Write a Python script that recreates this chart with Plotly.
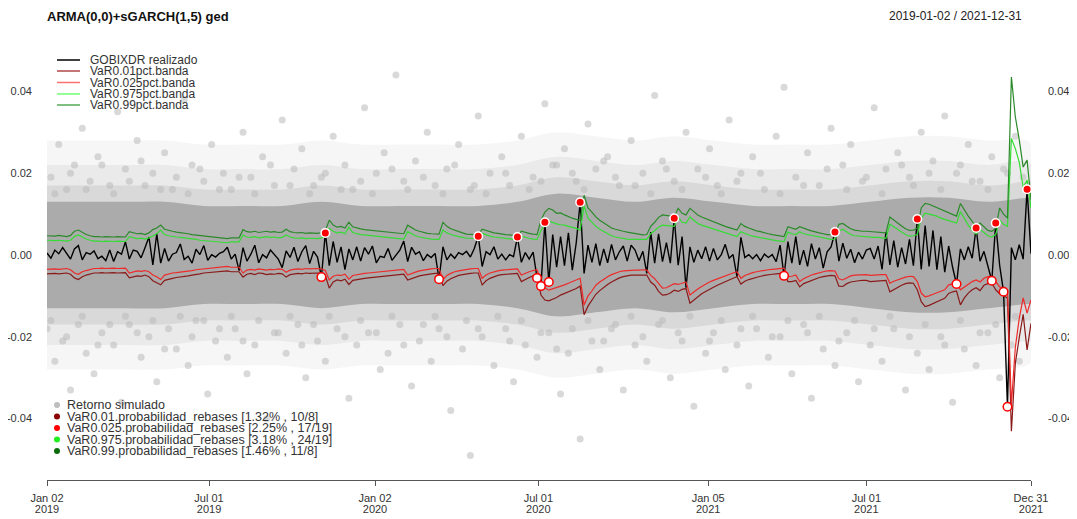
import plotly.graph_objects as go

# ---------------- text ----------------
TITLE = "ARMA(0,0)+sGARCH(1,5) ged"
PERIOD = "2019-01-02 / 2021-12-31"
TOP_LEGEND = ["GOBIXDR realizado", "VaR0.01pct.banda", "VaR0.025pct.banda",
              "VaR0.975pct.banda", "VaR0.99pct.banda"]
BOTTOM_LEGEND = ["Retorno simulado",
                 "VaR0.01.probabilidad_rebases [1.32% , 10/8]",
                 "VaR0.025.probabilidad_rebases [2.25% , 17/19]",
                 "VaR0.975.probabilidad_rebases [3.18% , 24/19]",
                 "VaR0.99.probabilidad_rebases [1.46% , 11/8]"]

# ---------------- axes ----------------
UNIT = 1e-3          # all series below are in thousandths (0.001)
STEP = 3             # one sample every 3 trading-day observations
N_LAST = 753         # observation index of 2021-12-31
TICK_IDX = [0, 124, 251, 376, 506, 627, 753]
TICK_DAY = ["Jan 02", "Jul 01", "Jan 02", "Jul 01", "Jan 05", "Jul 01", "Dec 31"]
TICK_YEAR = ["2019", "2019", "2020", "2020", "2021", "2021", "2021"]
Y_TICKS = [-0.04, -0.02, 0.0, 0.02, 0.04]
Y_TICK_TEXT = ["-0.04", "-0.02", "0.00", "0.02", "0.04"]

# ---------------- series (x 1e-3) ----------------
REALIZED = [
    0.5, -0.8, 1.2, 0.3, 1.8, 0.4, -1.0, 1.5, 2.3, -1.2,
    0.6, 0.2, 1.0, -0.9, -0.3, -1.4, 1.2, -1.6, 0.8, 0.2,
    3.2, -1.0, 1.2, 0.9, -0.7, 1.8, 4.4, -2.4, 5.2, -2.0,
    1.6, -1.5, 0.2, 0.6, 2.7, -1.1, -0.3, -2.0, 1.4, 0.1,
    2.3, -1.3, 0.1, -0.5, 0.4, 0.8, 1.9, -1.0, 0.2, -3.8,
    1.8, -1.5, 0.2, 2.4, -1.9, 0.1, -0.7, 1.2, 0.2, -1.0,
    -3.1, 1.0, -0.6, 1.9, -1.6, 0.8, 2.3, -2.1, 0.9, -0.5,
    -5.4, 5.4, -2.6, 3.3, -1.8, 2.0, -3.6, 1.5, -1.2, 2.0,
    -1.5, 1.8, 0.2, 2.2, -1.9, -0.3, -0.6, 1.6, -1.3, 0.1,
    1.2, 3.4, -1.6, 1.9, 0.2, 0.8, -1.4, 0.1, -0.6, 0.4,
    -5.9, 2.0, -1.2, 0.2, -0.8, 0.6, 0.1, 0.9, -0.5, 1.6,
    4.6, -2.8, 0.8, 0.1, 2.0, -1.0, 0.2, -1.2, 0.1, -0.4,
    4.4, -1.8, 0.6, -1.0, 0.7, -5.6, -7.6, 8.0, -6.6, 5.0,
    -3.0, 4.5, -2.6, 5.4, -3.7, 3.0, 12.9, -4.5, 2.4, -1.8,
    2.8, -2.6, 1.5, -1.9, 2.6, -1.2, 0.8, 2.2, -1.5, 2.4,
    1.2, -1.4, 0.9, -4.5, 5.6, -2.0, 5.2, -1.6, 3.0, -2.0,
    9.0, -2.5, 4.5, -8.0, 2.0, -1.8, 1.2, -0.9, 2.0, -1.5,
    1.6, -1.2, 0.1, 2.6, -0.8, 0.1, -5.3, 4.3, -0.6, 0.1,
    -0.9, 0.1, -1.4, 0.2, -0.6, 0.1, -1.6, 2.4, -5.1, 3.3,
    -2.0, 4.5, -2.4, 1.2, -2.8, 2.8, -1.0, 1.8, -3.2, 0.8,
    2.0, 5.6, -1.5, 2.9, -0.8, 1.4, -1.9, 0.7, -1.0, 1.2,
    1.6, -1.0, 2.2, -3.5, 5.6, -2.4, 3.5, -3.0, 1.8, -2.2,
    3.8, -2.6, 8.8, -3.5, 7.2, -2.8, 6.0, -3.6, 4.5, -4.2,
    2.2, -3.0, -7.1, 1.5, -1.2, 2.0, -0.8, 6.6, -1.5, 0.9,
    -2.4, -6.3, 7.8, -2.5, -9.0, -37.1, 1.8, -1.2, 2.5, -1.0,
    16.1, 0.3,
]

VAR_975 = [
    3.6, 3.5, 3.5, 3.6, 3.5, 3.4, 3.6, 4.5, 4.9, 4.3,
    3.9, 3.6, 3.4, 3.4, 3.3, 3.4, 3.3, 3.3, 3.4, 3.3,
    3.3, 4.5, 4.2, 4.0, 4.1, 3.9, 4.2, 4.8, 5.2, 6.1,
    5.0, 4.7, 4.5, 4.4, 4.3, 4.2, 4.0, 3.9, 3.8, 3.6,
    3.5, 3.4, 3.3, 3.2, 3.1, 3.1, 3.0, 3.2, 3.2, 3.2,
    4.9, 4.4, 4.3, 4.5, 4.2, 4.3, 4.5, 4.3, 4.4, 4.2,
    4.3, 4.9, 4.4, 4.2, 4.1, 4.2, 4.0, 4.1, 4.0, 4.0,
    4.2, 4.6, 6.5, 5.8, 5.4, 5.6, 5.2, 6.8, 5.5, 5.2,
    5.0, 4.9, 4.8, 4.7, 4.5, 4.4, 4.3, 4.2, 4.1, 4.0,
    3.9, 3.9, 5.7, 5.1, 4.7, 4.4, 4.2, 4.0, 3.9, 3.8,
    3.8, 6.1, 5.4, 5.0, 4.7, 4.5, 4.3, 4.1, 4.1, 4.0,
    4.0, 5.3, 4.9, 4.6, 4.4, 4.3, 4.1, 4.0, 3.9, 3.8,
    3.7, 4.6, 4.3, 4.1, 3.9, 3.8, 6.0, 7.4, 8.3, 7.9,
    7.6, 7.4, 7.3, 7.0, 6.8, 6.5, 6.1, 12.0, 9.0, 8.0,
    7.0, 6.3, 5.7, 5.2, 4.7, 4.4, 4.2, 4.0, 3.9, 3.8,
    3.8, 3.7, 3.7, 3.8, 5.2, 6.0, 6.8, 7.3, 7.2, 7.0,
    7.0, 9.3, 8.0, 7.8, 9.3, 8.5, 7.7, 7.3, 7.0, 6.6,
    6.3, 6.0, 5.7, 5.4, 5.1, 4.8, 4.5, 5.7, 5.2, 4.9,
    4.6, 4.4, 4.2, 4.0, 3.8, 3.7, 3.5, 3.4, 3.3, 5.6,
    5.2, 5.0, 5.7, 5.2, 5.0, 4.7, 4.5, 4.3, 4.1, 3.9,
    3.8, 3.9, 5.9, 6.3, 5.6, 5.0, 4.7, 4.6, 4.5, 4.5,
    4.4, 4.3, 4.3, 4.2, 4.1, 7.5, 6.8, 6.2, 5.6, 5.0,
    4.6, 4.7, 5.0, 9.0, 10.2, 10.0, 9.7, 9.5, 9.0, 8.7,
    8.3, 8.0, 7.8, 10.6, 8.8, 7.3, 6.0, 5.1, 6.3, 5.4,
    4.7, 4.4, 5.0, 8.5, 7.5, 7.0, 28.5, 26.0, 22.7, 16.5,
    18.3, 11.5,
]

VAR_99 = [
    4.7, 4.6, 4.6, 4.8, 4.6, 4.5, 4.8, 5.8, 6.1, 5.5,
    5.0, 4.7, 4.5, 4.5, 4.4, 4.5, 4.4, 4.4, 4.5, 4.4,
    4.4, 5.7, 5.4, 5.2, 5.3, 5.0, 5.4, 6.2, 6.6, 7.3,
    6.3, 6.0, 5.8, 5.6, 5.5, 5.4, 5.2, 5.0, 4.9, 4.7,
    4.6, 4.5, 4.4, 4.3, 4.2, 4.1, 4.0, 4.2, 4.2, 4.2,
    6.2, 5.7, 5.6, 5.8, 5.5, 5.6, 5.8, 5.6, 5.7, 5.5,
    5.6, 6.3, 5.7, 5.5, 5.4, 5.5, 5.3, 5.4, 5.3, 5.3,
    5.5, 6.0, 8.5, 7.3, 6.8, 7.0, 6.6, 8.0, 6.9, 6.6,
    6.4, 6.2, 6.1, 6.0, 5.8, 5.7, 5.6, 5.5, 5.4, 5.3,
    5.2, 5.2, 7.3, 6.6, 6.1, 5.8, 5.5, 5.3, 5.2, 5.1,
    5.1, 8.0, 7.0, 6.4, 6.0, 5.7, 5.4, 5.1, 5.0, 4.9,
    4.9, 6.3, 6.0, 5.7, 5.4, 5.3, 5.1, 5.0, 4.9, 4.8,
    4.7, 5.8, 5.5, 5.3, 5.1, 5.0, 8.5, 10.5, 11.4, 11.0,
    10.2, 10.3, 9.8, 9.3, 9.0, 8.7, 8.5, 14.6, 11.5, 10.5,
    9.3, 8.5, 7.8, 7.2, 6.6, 6.3, 6.0, 5.8, 5.6, 5.4,
    5.2, 5.0, 4.9, 5.0, 7.0, 8.0, 9.2, 9.8, 9.7, 9.5,
    9.4, 11.4, 10.2, 9.8, 11.4, 10.6, 9.8, 9.3, 8.9, 8.5,
    8.2, 7.8, 7.4, 7.0, 6.7, 6.4, 6.1, 7.7, 7.0, 6.6,
    6.2, 5.9, 5.7, 5.4, 5.2, 5.0, 4.8, 4.6, 4.5, 6.9,
    6.6, 6.3, 6.9, 6.5, 6.2, 5.9, 5.6, 5.4, 5.2, 5.0,
    5.0, 5.1, 7.5, 7.7, 7.0, 6.4, 6.1, 5.9, 5.8, 5.8,
    5.7, 5.6, 5.6, 5.5, 5.4, 9.3, 8.5, 7.8, 7.1, 6.4,
    6.0, 6.1, 6.5, 11.5, 12.6, 12.4, 12.0, 11.6, 11.0, 10.6,
    10.2, 9.8, 9.5, 12.6, 11.0, 9.5, 8.2, 7.0, 7.8, 6.8,
    6.0, 5.8, 6.5, 11.5, 10.0, 9.0, 43.5, 33.8, 28.2, 21.5,
    23.2, 13.5,
]

VAR_025 = [
    -3.5, -3.4, -3.4, -3.5, -3.4, -3.3, -3.6, -4.4, -4.7, -4.1,
    -3.8, -3.5, -3.3, -3.3, -3.2, -3.3, -3.2, -3.2, -3.3, -3.2,
    -3.2, -4.4, -4.1, -3.9, -4.0, -3.8, -4.1, -4.9, -5.3, -6.0,
    -4.9, -4.6, -4.4, -4.3, -4.2, -4.1, -3.9, -3.8, -3.6, -3.5,
    -3.3, -3.2, -3.1, -3.0, -2.9, -2.9, -2.8, -3.0, -3.0, -3.0,
    -4.4, -3.7, -3.5, -3.7, -3.4, -3.5, -3.7, -3.5, -3.6, -3.4,
    -3.5, -4.2, -3.7, -3.5, -3.4, -3.5, -3.3, -3.4, -3.3, -3.3,
    -3.4, -3.8, -6.1, -5.2, -4.9, -5.0, -4.7, -5.9, -5.0, -4.8,
    -4.6, -4.5, -4.4, -4.3, -4.1, -4.0, -3.9, -3.8, -3.7, -3.6,
    -3.5, -3.5, -4.9, -4.5, -4.2, -3.9, -3.7, -3.5, -3.4, -3.3,
    -3.3, -6.0, -5.0, -4.5, -4.1, -3.9, -3.7, -3.5, -3.4, -3.3,
    -3.3, -5.7, -4.9, -4.4, -4.1, -3.9, -3.7, -3.6, -3.5, -3.4,
    -3.4, -4.9, -4.4, -4.1, -3.8, -3.6, -6.4, -8.0, -8.6, -8.3,
    -8.0, -7.7, -7.3, -6.9, -6.5, -6.1, -5.7, -12.2, -10.0, -8.8,
    -7.4, -6.6, -5.9, -5.3, -4.8, -4.4, -4.1, -3.9, -3.8, -3.7,
    -3.7, -3.7, -3.6, -3.7, -5.0, -5.8, -7.0, -8.1, -8.0, -7.6,
    -7.0, -7.2, -6.8, -6.6, -9.8, -9.0, -8.3, -7.7, -7.1, -6.6,
    -6.2, -5.8, -5.4, -5.0, -4.7, -4.4, -4.1, -5.7, -5.0, -4.6,
    -4.3, -4.1, -3.9, -3.7, -3.6, -3.5, -3.4, -3.3, -3.2, -5.3,
    -5.2, -4.9, -6.5, -5.8, -5.3, -4.9, -4.6, -4.3, -4.1, -3.9,
    -3.8, -3.9, -5.8, -6.1, -5.5, -5.1, -4.9, -4.9, -4.8, -4.8,
    -5.0, -4.9, -4.9, -4.8, -4.8, -6.9, -6.4, -6.0, -5.6, -5.4,
    -5.2, -5.3, -6.5, -9.3, -10.2, -10.0, -9.6, -9.2, -8.8, -8.5,
    -7.3, -7.0, -6.8, -8.5, -7.8, -7.0, -6.5, -6.1, -6.6, -5.7,
    -5.3, -5.2, -6.5, -7.8, -8.0, -8.5, -36.5, -22.6, -15.5, -10.5,
    -14.2, -11.0,
]

VAR_01 = [
    -4.6, -4.5, -4.5, -4.6, -4.5, -4.4, -4.7, -5.6, -6.0, -5.3,
    -4.9, -4.6, -4.4, -4.4, -4.3, -4.4, -4.3, -4.3, -4.4, -4.3,
    -4.3, -5.6, -5.3, -5.1, -5.2, -4.9, -5.3, -6.3, -6.8, -7.3,
    -6.2, -5.9, -5.7, -5.5, -5.4, -5.3, -5.1, -4.9, -4.8, -4.6,
    -4.4, -4.3, -4.2, -4.1, -4.0, -4.0, -3.9, -4.1, -4.1, -4.1,
    -5.4, -4.7, -4.5, -4.8, -4.4, -4.5, -4.8, -4.6, -4.7, -4.5,
    -4.6, -5.4, -4.8, -4.6, -4.5, -4.6, -4.4, -4.5, -4.4, -4.4,
    -4.5, -5.0, -8.1, -6.6, -6.1, -6.3, -5.9, -7.2, -6.2, -6.0,
    -5.8, -5.7, -5.6, -5.5, -5.3, -5.2, -5.1, -5.0, -4.9, -4.8,
    -4.7, -4.7, -6.1, -5.7, -5.4, -5.1, -4.9, -4.7, -4.6, -4.5,
    -4.5, -7.5, -6.4, -5.8, -5.3, -5.0, -4.8, -4.6, -4.5, -4.4,
    -4.4, -7.3, -6.3, -5.7, -5.3, -5.0, -4.8, -4.7, -4.6, -4.5,
    -4.5, -6.5, -5.9, -5.5, -5.1, -4.8, -9.8, -11.0, -11.2, -10.8,
    -10.4, -9.8, -9.4, -9.0, -8.6, -8.2, -7.6, -14.6, -12.5, -11.0,
    -9.6, -8.7, -7.9, -7.2, -6.6, -6.0, -5.6, -5.3, -5.1, -4.9,
    -4.9, -4.9, -4.8, -4.9, -6.6, -7.4, -8.9, -9.8, -9.7, -9.3,
    -8.6, -8.9, -8.4, -8.2, -11.8, -11.0, -10.2, -9.5, -8.9, -8.3,
    -7.9, -7.4, -6.9, -6.5, -6.1, -5.7, -5.3, -7.1, -6.4, -6.0,
    -5.7, -5.4, -5.2, -5.0, -4.8, -4.7, -4.6, -4.5, -4.4, -6.5,
    -6.5, -6.2, -7.8, -7.0, -6.6, -6.2, -5.8, -5.5, -5.3, -5.1,
    -5.0, -5.1, -7.6, -7.7, -7.0, -6.6, -6.4, -6.3, -6.2, -6.2,
    -6.5, -6.4, -6.3, -6.2, -6.2, -9.0, -8.4, -7.8, -7.4, -7.0,
    -6.8, -6.9, -8.5, -11.4, -12.6, -12.3, -11.8, -11.4, -11.0, -10.6,
    -9.4, -9.0, -8.8, -12.2, -10.5, -9.3, -8.5, -8.0, -8.7, -7.4,
    -7.0, -6.9, -8.5, -9.5, -10.0, -10.5, -43.1, -26.5, -20.2, -14.5,
    -23.2, -16.7,
]

# sample positions (in the series above) of the breaches that are marked
UP_BREACH_K = [71, 110, 120, 127, 136, 160, 201, 222, 237, 242, 250]
DOWN_BREACH_K = [70, 100, 125, 126, 128, 188, 232, 241, 244, 245]

# simulated-returns cloud: dense core and fading halo envelopes (x 1e-3)
ENV_K = [0, 10, 20, 30, 40, 50, 60, 70, 80, 90, 100, 110, 120, 130, 140, 150,
         160, 170, 180, 190, 200, 210, 220, 230, 240, 250, 251]
CORE_TOP = [13, 13, 13, 13, 12, 12, 12, 13, 12, 12, 12, 12, 13, 15, 14, 13,
            14, 13, 12, 12, 12, 13, 14, 14, 13, 14, 14]
CORE_BOT = [-13, -13, -13, -13, -12, -12, -12, -13, -12, -12, -12, -12, -13, -15, -14, -13,
            -14, -13, -12, -12, -12, -13, -14, -14, -13, -12, -12]
HALO1_TOP = [17, 17, 17, 17, 16, 16, 16, 17, 16, 16, 16, 16, 17, 19, 18, 17,
             18, 17, 16, 16, 16, 17, 18, 18, 17, 18, 18]
HALO1_BOT = [-17, -17, -17, -17, -16, -16, -16, -17, -16, -16, -16, -16, -17, -19, -18, -17,
             -18, -17, -16, -16, -16, -17, -18, -18, -17, -16, -16]
HALO2_TOP = [22, 22, 22, 22, 21, 21, 21, 22, 21, 21, 21, 21, 22, 24, 23, 22,
             23, 22, 21, 21, 21, 22, 23, 23, 22, 23, 22]
HALO2_BOT = [-22, -22, -22, -22, -21, -21, -21, -22, -21, -21, -21, -21, -22, -24, -23, -22,
             -23, -22, -21, -21, -21, -22, -23, -23, -22, -21, -21]
HALO3_TOP = [28, 28, 28, 28, 27, 27, 27, 28, 27, 27, 27, 27, 28, 30, 29, 28,
             29, 28, 27, 27, 27, 28, 29, 29, 28, 28, 27]
HALO3_BOT = [-28, -28, -28, -28, -27, -27, -27, -28, -27, -27, -27, -27, -28, -30, -29, -28,
             -29, -28, -27, -27, -27, -28, -29, -29, -28, -27, -26]

# scattered simulated returns outside the dense band: (sample position, value x 1e-3)
DOT_K = [1, 3, 5, 7, 9, 11, 13, 16, 18, 20, 23, 25, 27, 30, 32, 35, 37, 40, 42, 45,
         47, 50, 52, 55, 58, 60, 63, 65, 68, 70, 73, 76, 78, 81, 84, 86, 89, 91, 94, 97,
         99, 102, 105, 108, 110, 113, 116, 118, 121, 124, 127, 129, 132, 135, 138, 140, 143, 146, 149, 152,
         155, 157, 160, 163, 166, 169, 171, 174, 177, 180, 183, 186, 188, 191, 194, 197, 200, 203, 205, 208,
         211, 214, 217, 220, 223, 226, 229, 232, 235, 238, 241, 244, 247, 249,
         0, 2, 4, 6, 8, 10, 12, 14, 17, 19, 21, 24, 26, 28, 31, 33, 36, 38, 41, 43,
         46, 48, 51, 53, 56, 59, 61, 64, 66, 69, 71, 74, 77, 79, 82, 85, 87, 90, 93, 95,
         98, 100, 103, 106, 108, 111, 114, 117, 119, 122, 125, 128, 131, 133, 136, 139, 141, 144, 147, 150,
         153, 156, 159, 162, 165, 168, 170, 173, 176, 179, 181, 184, 187, 190, 193, 195, 198, 201, 204, 207,
         210, 213, 216, 219, 222, 225, 228, 231, 234, 237, 240, 243, 246, 248,
         2, 6, 10, 14, 17, 21, 24, 29, 33, 36, 39, 44, 49, 53, 57, 62, 67, 71, 75, 80,
         83, 88, 92, 96, 101, 104, 109, 112, 117, 123, 126, 130, 134, 137, 142, 145, 150, 154, 158, 162,
         168, 172, 176, 182, 187, 193, 199, 204, 209, 213, 218, 221, 225, 228, 233, 236, 240, 245, 250,
         1, 5, 9, 13, 16, 20, 23, 27, 30, 34, 37, 40, 44, 47, 50, 54, 58, 62, 65, 68,
         72, 76, 80, 84, 88, 91, 96, 99, 102, 107, 110, 115, 118, 121, 126, 130, 134, 138, 142, 145,
         149, 152, 157, 161, 164, 169, 172, 177, 180, 185, 189, 194, 197, 202, 206, 211, 215, 220, 224, 229,
         233, 238, 242, 247]
DOT_V = [19, 27, 16, 22, 31, 18, 24, 17, 35, 21, 28, 17, 20, 25, 16, 38, 22, 18, 27, 20,
         16, 30, 19, 24, 17, 33, 21, 26, 17, 19, 29, 22, 16, 36, 20, 25, 44, 18, 23, 30,
         17, 21, 27, 16, 34, 20, 24, 17, 29, 19, 37, 22, 26, 18, 32, 21, 24, 17, 28, 20,
         39, 23, 18, 30, 21, 26, 17, 33, 20, 24, 16, 29, 41, 19, 25, 17, 31, 22, 27, 18,
         36, 21, 25, 19, 30, 23, 34, 20, 27, 18, 24, 21, 29, 19,
         -18, -26, -21, -33, -17, -24, -29, -19, -22, -36, -17, -25, -20, -31, -18, -23, -27, -16, -34, -21,
         -25, -18, -29, -22, -40, -19, -24, -17, -30, -21, -26, -18, -35, -22, -19, -28, -24, -17, -32, -21,
         -26, -18, -38, -23, -49, -20, -27, -18, -31, -22, -25, -19, -34, -24, -45, -21, -28, -18, -33, -22,
         -26, -17, -30, -21, -37, -24, -19, -28, -22, -32, -18, -25, -20, -29, -17, -35, -23, -27, -19, -31,
         -22, -26, -18, -33, -24, -28, -20, -36, -23, -27, -19, -30, -22, -26,
         15, 20, 16, 22, 15, 18, 23, 16, 19, 15, 21, 16, 19, 15, 22, 17, 15, 20, 16, 18,
         15, 21, 16, 19, 15, 22, 17, 15, 20, 16, 18, 22, 20, 16, 23, 19, 17, 15, 21, 16,
         19, 15, 18, 20, 15, 17, 21, 16, 19, 15, 22, 17, 20, 16, 22, 18, 16, 20, 17,
         -16, -20, -15, -22, -17, -15, -19, -16, -23, -15, -20, -16, -18, -15, -21, -16, -19, -15, -22, -17,
         -15, -20, -16, -19, -15, -22, -17, -15, -20, -16, -18, -15, -21, -16, -19, -23, -18, -16, -21, -17,
         -15, -20, -16, -19, -15, -21, -16, -18, -15, -20, -16, -19, -15, -21, -16, -18, -15, -20, -17, -22,
         -16, -19, -17, -15]

for arr in (VAR_975, VAR_99, VAR_025, VAR_01):
    assert len(arr) == len(REALIZED)
for arr in (CORE_TOP, CORE_BOT, HALO1_TOP, HALO1_BOT, HALO2_TOP, HALO2_BOT, HALO3_TOP, HALO3_BOT):
    assert len(arr) == len(ENV_K)
assert len(DOT_K) == len(DOT_V)

# ---------------- styling ----------------
FONT = "Liberation Sans, Arial, sans-serif"
C_REAL = "#000000"
C_01 = "#8B1A1A"
C_025 = "#EE2A2A"
C_975 = "#33DD33"
C_99 = "#2A8A2A"
LEG_LINE_COLORS = ["#000000", "#B04848", "#FF7070", "#70FF70", "#55AA55"]
LEG_DOT_COLORS = ["#BEBEBE", "#8B0000", "#FF0000", "#22EE22", "#0B6B0B"]

# page body has an 8px margin: lay the figure out so the plot lands on screen pixels
OFF = 8
SCREEN_W, SCREEN_H = 1077, 519
W, H = SCREEN_W - OFF, SCREEN_H - OFF
PL, PR, PT, PB = 47, 1031, 30, 480   # plot area in screen pixels


def sc(vals):
    return [v * UNIT for v in vals]


def px_x(px):
    return (px - PL) / (PR - PL)


def px_y(py):
    return (PB - py) / (PB - PT)


x_all = [k * STEP for k in range(len(REALIZED))]
x_env = [k * STEP for k in ENV_K]

fig = go.Figure()

# simulated returns cloud (faint halo -> dense core)
for top, bot, col in ((HALO3_TOP, HALO3_BOT, "rgba(200,200,200,0.16)"),
                      (HALO2_TOP, HALO2_BOT, "rgba(190,190,190,0.22)"),
                      (HALO1_TOP, HALO1_BOT, "rgba(180,180,180,0.32)"),
                      (CORE_TOP, CORE_BOT, "rgb(171,171,171)")):
    fig.add_trace(go.Scatter(x=x_env, y=sc(bot), mode="lines", line=dict(width=0, shape="spline"),
                             hoverinfo="skip", showlegend=False))
    fig.add_trace(go.Scatter(x=x_env, y=sc(top), mode="lines", line=dict(width=0, shape="spline"),
                             fill="tonexty", fillcolor=col, hoverinfo="skip", showlegend=False))

fig.add_trace(go.Scatter(x=[k * STEP for k in DOT_K], y=sc(DOT_V), mode="markers",
                         marker=dict(size=7, color="rgba(185,185,185,0.55)"),
                         hoverinfo="skip", showlegend=False))

# realized returns
fig.add_trace(go.Scatter(x=x_all, y=sc(REALIZED), mode="lines",
                         line=dict(color=C_REAL, width=1.4), showlegend=False))

# VaR bands
for vals, col in ((VAR_01, C_01), (VAR_025, C_025), (VAR_975, C_975), (VAR_99, C_99)):
    fig.add_trace(go.Scatter(x=x_all, y=sc(vals), mode="lines",
                             line=dict(color=col, width=1.2), showlegend=False))

# breach markers
fig.add_trace(go.Scatter(x=[k * STEP for k in UP_BREACH_K], y=[REALIZED[k] * UNIT for k in UP_BREACH_K],
                         mode="markers", marker=dict(size=8.5, color="#FF0000", line=dict(color="white", width=1.5)),
                         showlegend=False))
fig.add_trace(go.Scatter(x=[k * STEP for k in DOWN_BREACH_K], y=[REALIZED[k] * UNIT for k in DOWN_BREACH_K],
                         mode="markers", marker=dict(size=8.5, color="white", line=dict(color="#FF0000", width=1.5)),
                         showlegend=False))

# invisible trace on the secondary axes (right-hand y labels, year row of x labels)
fig.add_trace(go.Scatter(x=[0, N_LAST], y=[0, 0], xaxis="x2", yaxis="y2", mode="lines",
                         line=dict(width=0), hoverinfo="skip", showlegend=False))

shapes = []
annotations = []

# top legend (line samples)
top_rows = [60, 71, 82.5, 94, 105]
for txt, col, py in zip(TOP_LEGEND, LEG_LINE_COLORS, top_rows):
    shapes.append(dict(type="line", xref="paper", yref="paper", x0=px_x(57), x1=px_x(80),
                       y0=px_y(py), y1=px_y(py), line=dict(color=col, width=1.5)))
    annotations.append(dict(xref="paper", yref="paper", x=px_x(88), y=px_y(py), text=txt,
                            showarrow=False, xanchor="left", yanchor="middle",
                            font=dict(family=FONT, size=12, color="#333333")))

# bottom legend (point samples)
bot_rows = [405, 416.5, 428, 439.5, 451]
for txt, col, py in zip(BOTTOM_LEGEND, LEG_DOT_COLORS, bot_rows):
    shapes.append(dict(type="circle", xref="paper", yref="paper", xsizemode="pixel", ysizemode="pixel",
                       xanchor=px_x(57), yanchor=px_y(py), x0=-3, x1=3, y0=-3, y1=3,
                       fillcolor=col, line=dict(width=0)))
    annotations.append(dict(xref="paper", yref="paper", x=px_x(65), y=px_y(py), text=txt,
                            showarrow=False, xanchor="left", yanchor="middle",
                            font=dict(family=FONT, size=12.5, color="#333333")))

# titles
annotations.append(dict(xref="paper", yref="paper", x=px_x(45), y=px_y(16), text="<b>" + TITLE + "</b>",
                        showarrow=False, xanchor="left", yanchor="middle",
                        font=dict(family=FONT, size=13, color="#111111")))
annotations.append(dict(xref="paper", yref="paper", x=px_x(1024), y=px_y(16), text=PERIOD,
                        showarrow=False, xanchor="right", yanchor="middle",
                        font=dict(family=FONT, size=12, color="#222222")))

yax_common = dict(range=[-0.055, 0.055], tickvals=Y_TICKS, ticktext=Y_TICK_TEXT,
                  showgrid=False, zeroline=False, showline=False, ticks="", automargin=False,
                  tickfont=dict(family=FONT, size=11, color="#333333"), fixedrange=True)
xax_common = dict(range=[0, N_LAST], tickvals=TICK_IDX, showgrid=False, zeroline=False,
                  automargin=False, ticks="outside", ticklen=5,
                  tickfont=dict(family=FONT, size=11, color="#333333"))

fig.update_layout(
    width=W, height=H,
    margin=dict(l=PL - OFF, r=W - (PR - OFF), t=PT - OFF, b=H - (PB - OFF)),
    paper_bgcolor="white", plot_bgcolor="white",
    showlegend=False,
    xaxis=dict(**xax_common, ticktext=TICK_DAY, showline=True, linecolor="#555555",
               linewidth=1, tickcolor="#555555", ticklabelstandoff=3),
    xaxis2=dict(**xax_common, ticktext=TICK_YEAR, overlaying="x", side="bottom",
                showline=False, tickcolor="rgba(0,0,0,0)", ticklabelstandoff=14),
    yaxis=dict(**yax_common, side="left", ticklabelstandoff=14),
    yaxis2=dict(**yax_common, side="right", overlaying="y", ticklabelstandoff=16),
    shapes=shapes,
    annotations=annotations,
)

fig.write_html("out.html")
